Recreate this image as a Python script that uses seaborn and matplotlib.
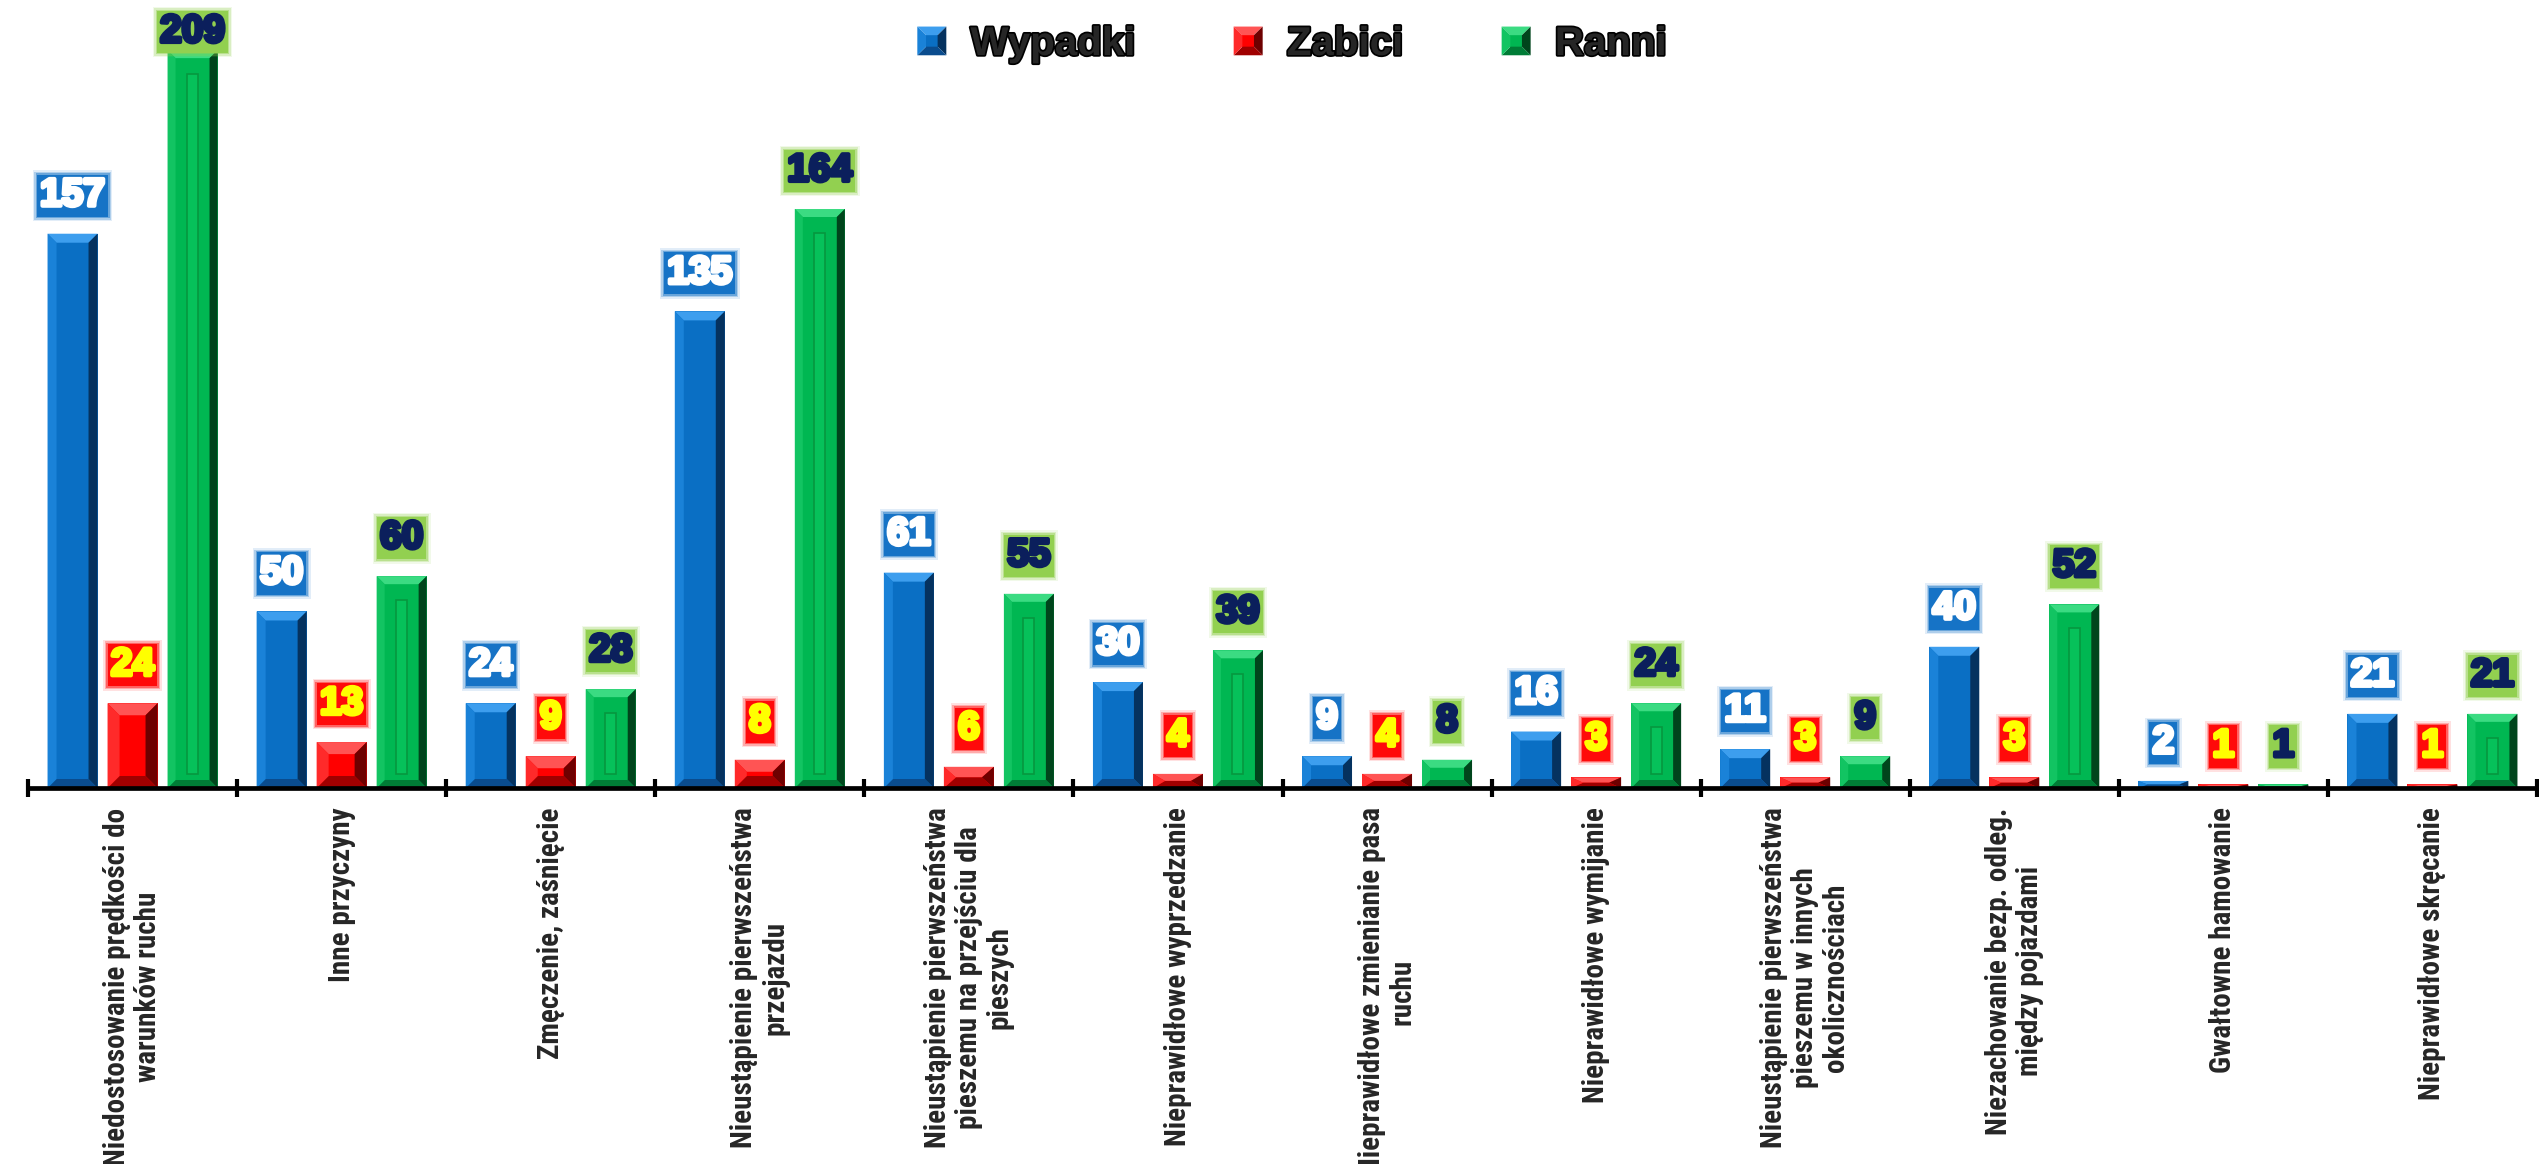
import numpy as np
import pandas as pd
import seaborn as sns
import matplotlib
matplotlib.use("Agg")
import matplotlib.pyplot as plt
from matplotlib.patches import Polygon, Patch
from matplotlib.legend_handler import HandlerBase
from matplotlib import patheffects as pe
from matplotlib import font_manager as fm

# ---- data -------------------------------------------------------------
causes = [
    "Niedostosowanie prędkości do\nwarunków ruchu",
    "Inne przyczyny",
    "Zmęczenie, zaśnięcie",
    "Nieustąpienie pierwszeństwa\nprzejazdu",
    "Nieustąpienie pierwszeństwa\npieszemu na przejściu dla\npieszych",
    "Nieprawidłowe wyprzedzanie",
    "Nieprawidłowe zmienianie pasa\nruchu",
    "Nieprawidłowe wymijanie",
    "Nieustąpienie pierwszeństwa\npieszemu w innych\nokolicznościach",
    "Niezachowanie bezp. odleg.\nmiędzy pojazdami",
    "Gwałtowne hamowanie",
    "Nieprawidłowe skręcanie",
]
series = ["Wypadki", "Zabici", "Ranni"]
wypadki = [157, 50, 24, 135, 61, 30, 9, 16, 11, 40, 2, 21]
zabici = [24, 13, 9, 8, 6, 4, 4, 3, 3, 3, 1, 1]
ranni = [209, 60, 28, 164, 55, 39, 8, 24, 9, 52, 1, 21]
values = [wypadki, zabici, ranni]

df = pd.DataFrame({
    "Przyczyna": causes * len(series),
    "Seria": np.repeat(series, len(causes)),
    "Liczba": wypadki + zabici + ranni,
})

# ---- styling ----------------------------------------------------------
shades = {
    "Wypadki": dict(face="#0A6FC4", top="#3D9EEE", left="#1A82D8", right="#05325F",
                    bottom="#0A4C8E", box="#1673C6", text="#FFFFFF", inset=9),
    "Zabici": dict(face="#FF0000", top="#FF5454", left="#FF2A2A", right="#6E0000",
                   bottom="#A00000", box="#FF0A0A", text="#FFFF00", inset=12),
    "Ranni": dict(face="#00B752", top="#3BDB82", left="#12C462", right="#00451C",
                  bottom="#007C36", box="#92D050", text="#0B1F5C", inset=8),
}
palette = [shades[s]["face"] for s in series]

sns.set_style("white")
plt.rcParams["font.family"] = ["Liberation Sans", "DejaVu Sans"]

# narrow face for the category labels, if one is available
font_names = {f.name for f in fm.fontManager.ttflist}
cat_family, cat_size, cat_ls = ["Liberation Sans", "DejaVu Sans"], 17.5, 1.36
for cand in ["Liberation Sans Narrow", "Arial Narrow", "Roboto Condensed",
             "Open Sans Condensed"]:
    if cand in font_names:
        cat_family, cat_size, cat_ls = [cand, "Liberation Sans"], 21, 1.13
        break

W, H = 2539, 1164
fig = plt.figure(figsize=(W / 100, H / 100), dpi=100)
fig.patch.set_facecolor("white")
ax = fig.add_axes([28 / W, 376 / H, 2509 / W, 788 / H])

sns.barplot(data=df, x="Przyczyna", y="Liczba", hue="Seria", hue_order=series,
            palette=palette, saturation=1, width=0.861, gap=0.167,
            linewidth=0, legend=False, errorbar=None, ax=ax)

YMAX = 223.2
ax.set_xlim(-0.5, len(causes) - 0.5)
ax.set_ylim(0, YMAX)

# pixel -> data conversion for the bevel facets
px_x = (2509 / len(causes))          # pixels per category unit
px_y = 788 / YMAX                    # pixels per value unit


def bevel_polys(x0, x1, y0, y1, dx, dy):
    dx = min(dx, (x1 - x0) / 2)
    dy = min(dy, (y1 - y0) / 2)
    ix0, ix1, iy0, iy1 = x0 + dx, x1 - dx, y0 + dy, y1 - dy
    return {
        "face": [(ix0, iy0), (ix1, iy0), (ix1, iy1), (ix0, iy1)],
        "top": [(x0, y1), (x1, y1), (ix1, iy1), (ix0, iy1)],
        "right": [(x1, y1), (x1, y0), (ix1, iy0), (ix1, iy1)],
        "bottom": [(x0, y0), (x1, y0), (ix1, iy0), (ix0, iy0)],
        "left": [(x0, y0), (x0, y1), (ix0, iy1), (ix0, iy0)],
    }


for name, container, vals in zip(series, ax.containers, values):
    s = shades[name]
    for bar, v in zip(container, vals):
        x0 = bar.get_x()
        x1 = x0 + bar.get_width()
        h = bar.get_height()
        polys = bevel_polys(x0, x1, 0, h, s["inset"] / px_x, s["inset"] / px_y)
        for key in ["face", "top", "right", "bottom", "left"]:
            ax.add_patch(Polygon(polys[key], closed=True, facecolor=s[key],
                                 edgecolor="none", zorder=2))
        if name == "Ranni" and h * px_y > 40:
            cx = (x0 + x1) / 2
            sw = 11 / px_x / 2
            ax.add_patch(Polygon([(cx - sw, 14 / px_y), (cx + sw, 14 / px_y),
                                  (cx + sw, h - 24 / px_y), (cx - sw, h - 24 / px_y)],
                                 closed=True, facecolor="#06C15A",
                                 edgecolor="#07973F", linewidth=1.2, zorder=2.1))
        # value label box with a soft glowing rim
        cx = x0 + bar.get_width() / 2
        ly = min(v + 38 / px_y, YMAX - 32 / px_y)
        for pad, alpha in [(0.19, 0.12), (0.15, 0.25), (0.115, 0.45)]:
            ax.text(cx, ly, str(v), ha="center", va="center", fontsize=28,
                    fontweight="bold", color="none", zorder=4,
                    bbox=dict(boxstyle=f"square,pad={pad}", fc=s["box"],
                              ec="none", alpha=alpha))
        ax.text(cx, ly, str(v), ha="center", va="center", fontsize=28,
                fontweight="bold", color=s["text"], zorder=5,
                bbox=dict(boxstyle="square,pad=0.08", fc=s["box"], ec="none"),
                path_effects=[pe.withStroke(linewidth=3, foreground=s["text"])])

# ---- axes -------------------------------------------------------------
for side in ["left", "right", "top"]:
    ax.spines[side].set_visible(False)
ax.spines["bottom"].set_linewidth(3.4)
ax.spines["bottom"].set_color("black")
ax.spines["bottom"].set_zorder(3)
ax.set_yticks([])
ax.set_xlabel("")
ax.set_ylabel("")
ax.set_xticks(range(len(causes)))
ax.set_xticklabels(causes, rotation=90, ha="center", va="top",
                   multialignment="center", fontsize=cat_size,
                   fontweight="bold", family=cat_family, linespacing=cat_ls)
ax.set_xticks(np.arange(-0.5, len(causes), 1), minor=True)
ax.tick_params(axis="x", which="major", length=0, pad=14)
ax.tick_params(axis="x", which="minor", direction="inout", length=13,
               width=3, color="black", bottom=True)
ax.grid(False)


# ---- legend -----------------------------------------------------------
class BevelHandler(HandlerBase):
    def create_artists(self, legend, orig_handle, xdescent, ydescent,
                       width, height, fontsize, trans):
        s = shades[orig_handle.get_label()]
        x0, y0 = -xdescent, -ydescent
        polys = bevel_polys(x0, x0 + width, y0, y0 + height,
                            width * 0.3, height * 0.3)
        arts = []
        for key in ["face", "top", "right", "bottom", "left"]:
            p = Polygon(polys[key], closed=True, facecolor=s[key],
                        edgecolor="none", transform=trans)
            arts.append(p)
        return arts


handles = [Patch(facecolor=shades[s]["face"], label=s) for s in series]
leg = fig.legend(handles=handles, labels=series, loc="center",
                 bbox_to_anchor=(1292 / W, 1 - 44 / H), ncol=3, frameon=False,
                 prop=dict(family="Liberation Sans", weight="bold", size=29),
                 handlelength=0.72, handleheight=0.72, handletextpad=0.6,
                 columnspacing=2.45, borderpad=0, borderaxespad=0,
                 handler_map={Patch: BevelHandler()})
for t in leg.get_texts():
    t.set_path_effects([pe.withStroke(linewidth=2.5, foreground="black")])

fig.savefig("out.png", dpi=100, facecolor="white")
